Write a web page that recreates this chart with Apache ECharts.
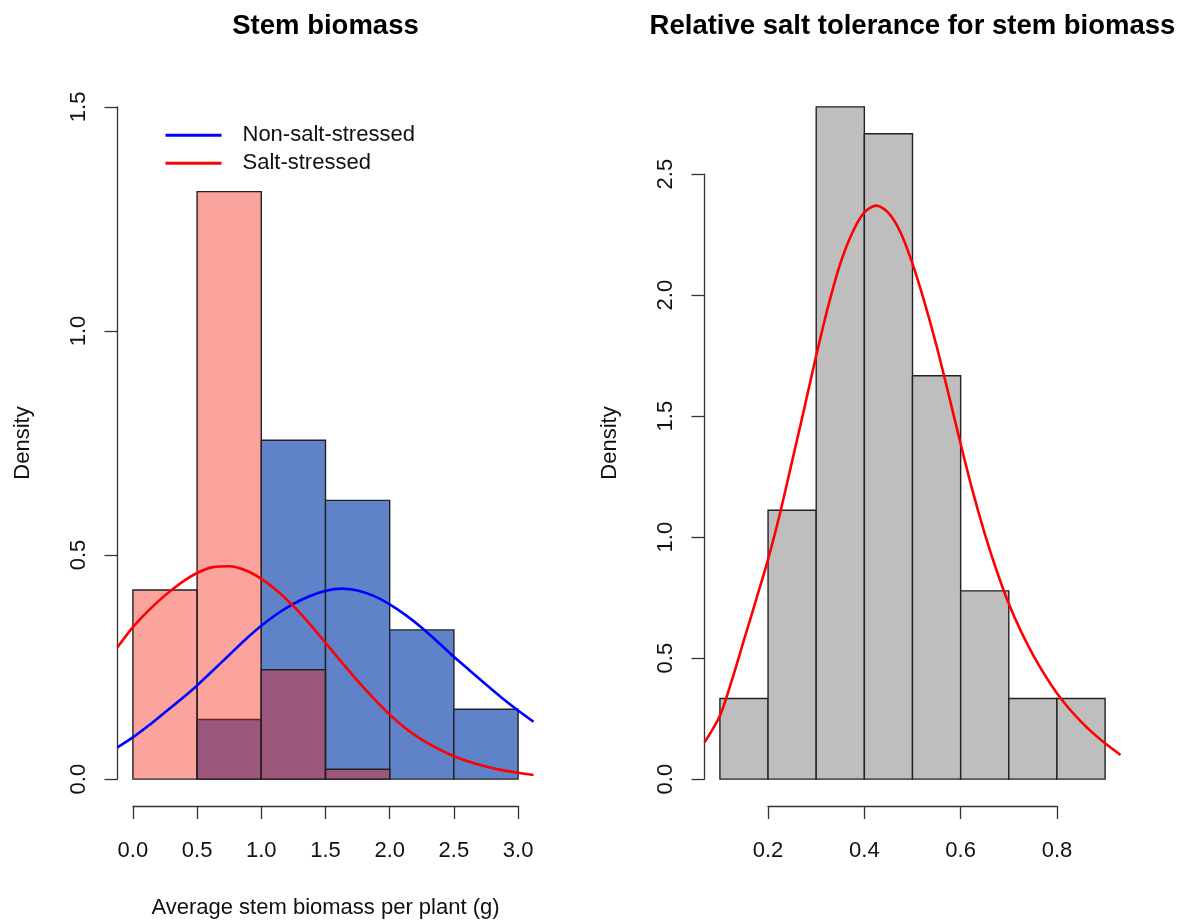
<!DOCTYPE html>
<html><head><meta charset="utf-8">
<script src="https://cdn.jsdelivr.net/npm/echarts@6.0.0/dist/echarts.min.js"></script>
<style>html,body{margin:0;padding:0;background:#fff}#c{width:1183px;height:924px}</style>
</head><body><div id="c"></div>
<script>
// ---------- data ----------
const leftBinEdges = [0, 0.5, 1.0, 1.5, 2.0, 2.5, 3.0];
const nonSaltDensity = [0, 0.133, 0.756, 0.622, 0.333, 0.156];
const saltDensity = [0.422, 1.311, 0.244, 0.022, 0, 0];

const nonSaltCurveX = [-0.12, 0, 0.125, 0.25, 0.375, 0.5, 0.625, 0.75, 0.875, 1.0, 1.125, 1.25, 1.375, 1.5, 1.625, 1.75, 1.875, 2.0, 2.125, 2.25, 2.375, 2.5, 2.625, 2.75, 2.875, 3.0, 3.12];
const nonSaltCurveY = [0.071, 0.093, 0.12, 0.149, 0.178, 0.209, 0.243, 0.277, 0.311, 0.342, 0.369, 0.391, 0.408, 0.42, 0.425, 0.421, 0.409, 0.39, 0.366, 0.338, 0.306, 0.273, 0.242, 0.211, 0.181, 0.153, 0.128];

const saltCurveX = [-0.12, 0, 0.125, 0.25, 0.375, 0.5, 0.625, 0.75, 0.875, 1.0, 1.125, 1.25, 1.375, 1.5, 1.625, 1.75, 1.875, 2.0, 2.125, 2.25, 2.375, 2.5, 2.625, 2.75, 2.875, 3.0, 3.12];
const saltCurveY = [0.294, 0.339, 0.377, 0.41, 0.438, 0.46, 0.473, 0.475, 0.466, 0.447, 0.42, 0.386, 0.347, 0.304, 0.261, 0.219, 0.18, 0.144, 0.113, 0.088, 0.068, 0.051, 0.038, 0.028, 0.02, 0.014, 0.009];

const rightBinEdges = [0.1, 0.2, 0.3, 0.4, 0.5, 0.6, 0.7, 0.8, 0.9];
const rstDensity = [0.333, 1.111, 2.778, 2.667, 1.667, 0.778, 0.333, 0.333];

const rstCurveX = [0.068, 0.1, 0.125, 0.15, 0.175, 0.2, 0.225, 0.25, 0.275, 0.3, 0.325, 0.35, 0.375, 0.4, 0.425, 0.45, 0.475, 0.5, 0.525, 0.55, 0.575, 0.6, 0.625, 0.65, 0.675, 0.7, 0.725, 0.75, 0.775, 0.8, 0.825, 0.85, 0.875, 0.9, 0.932];
const rstCurveY = [0.152, 0.262, 0.41, 0.575, 0.74, 0.908, 1.1, 1.314, 1.53, 1.75, 1.955, 2.13, 2.258, 2.342, 2.37, 2.34, 2.26, 2.13, 1.97, 1.79, 1.59, 1.385, 1.19, 1.015, 0.86, 0.725, 0.612, 0.515, 0.43, 0.355, 0.292, 0.238, 0.19, 0.148, 0.1];

const leftXTickLabels = ['0.0', '0.5', '1.0', '1.5', '2.0', '2.5', '3.0'];
const leftYTickLabels = ['0.0', '0.5', '1.0', '1.5'];
const rightXTickLabels = ['0.2', '0.4', '0.6', '0.8'];
const rightYTickLabels = ['0.0', '0.5', '1.0', '1.5', '2.0', '2.5'];

const leftTitle = 'Stem biomass';
const rightTitle = 'Relative salt tolerance for stem biomass';
const leftXName = 'Average stem biomass per plant (g)';
const yName = 'Density';
const legendNames = ['Non-salt-stressed', 'Salt-stressed'];

// ---------- layout ----------
const FONT = "'Liberation Sans', Arial, sans-serif";
const plotTop = 80, plotH = 726, plotW = 416;
const L = { left: 117.5, xr: [-0.12, 3.12], yr: [-0.06, 1.56] };
const R = { left: 704.5, xr: [0.068, 0.932], yr: [-0.111, 2.889] };

function axisGridFor(p, xt, yt) {
  const sx = plotW / (p.xr[1] - p.xr[0]);
  const sy = plotH / (p.yr[1] - p.yr[0]);
  const left = p.left + (xt[0] - p.xr[0]) * sx;
  const width = (xt[xt.length - 1] - xt[0]) * sx;
  const bottomY = plotTop + plotH - (yt[0] - p.yr[0]) * sy;
  const topY = plotTop + plotH - (yt[yt.length - 1] - p.yr[0]) * sy;
  return {
    grid: { left: left, top: topY, width: width, height: bottomY - topY },
    xOffset: plotTop + plotH - bottomY,
    yOffset: left - p.left
  };
}
const LXv = leftXTickLabels.map(Number), LYv = leftYTickLabels.map(Number);
const RXv = rightXTickLabels.map(Number), RYv = rightYTickLabels.map(Number);
const LA = axisGridFor(L, LXv, LYv);
const RA = axisGridFor(R, RXv, RYv);

function bars(edges, dens) {
  const out = [];
  dens.forEach((d, i) => { if (d > 0) out.push([edges[i], edges[i + 1], d]); });
  return out;
}
function pairs(xs, ys) { return xs.map((x, i) => [x, ys[i]]); }
function labelFor(vals, labs) {
  return function (v) {
    let bi = 0;
    vals.forEach((t, i) => { if (Math.abs(t - v) < Math.abs(vals[bi] - v)) bi = i; });
    return labs[bi];
  };
}
function histSeries(xi, data, fill) {
  return {
    type: 'custom', xAxisIndex: xi, yAxisIndex: xi,
    encode: { x: [0, 1], y: 2 },
    data: data,
    renderItem: function (params, api) {
      const p0 = api.coord([api.value(0), api.value(2)]);
      const p1 = api.coord([api.value(1), 0]);
      return {
        type: 'rect',
        shape: { x: p0[0], y: p0[1], width: p1[0] - p0[0], height: p1[1] - p0[1] },
        style: { fill: fill, stroke: '#222', lineWidth: 1.4 }
      };
    }
  };
}
function curveSeries(xi, name, data, color) {
  return {
    type: 'line', name: name, xAxisIndex: xi, yAxisIndex: xi,
    data: data, smooth: 0.3, symbol: 'none', showSymbol: false,
    color: color, lineStyle: { color: color, width: 2.6 }
  };
}
function visAxis(kind, gi, vals, labs, offset, margin, rotate) {
  return {
    type: 'value', gridIndex: gi, min: vals[0], max: vals[vals.length - 1],
    position: kind === 'x' ? 'bottom' : 'left', offset: offset,
    axisLine: { show: true, onZero: false, lineStyle: { color: '#333', width: 1.3 } },
    axisTick: { show: true, length: 13, customValues: vals, lineStyle: { color: '#333', width: 1.3 } },
    axisLabel: { customValues: vals, formatter: labelFor(vals, labs), fontSize: 22, fontFamily: FONT, color: '#111', margin: margin, rotate: rotate || 0 },
    splitLine: { show: false }
  };
}

const option = {
  animation: false,
  backgroundColor: '#ffffff',
  grid: [
    { left: L.left, top: plotTop, width: plotW, height: plotH },
    LA.grid,
    { left: R.left, top: plotTop, width: plotW, height: plotH },
    RA.grid
  ],
  xAxis: [
    { type: 'value', gridIndex: 0, min: L.xr[0], max: L.xr[1], show: false },
    visAxis('x', 1, LXv, leftXTickLabels, LA.xOffset, 34),
    { type: 'value', gridIndex: 2, min: R.xr[0], max: R.xr[1], show: false },
    visAxis('x', 3, RXv, rightXTickLabels, RA.xOffset, 34)
  ],
  yAxis: [
    { type: 'value', gridIndex: 0, min: L.yr[0], max: L.yr[1], show: false },
    visAxis('y', 1, LYv, leftYTickLabels, LA.yOffset, 28, 90),
    { type: 'value', gridIndex: 2, min: R.yr[0], max: R.yr[1], show: false },
    visAxis('y', 3, RYv, rightYTickLabels, RA.yOffset, 28, 90)
  ],
  legend: {
    orient: 'vertical', left: 160.5, top: 116.3,
    itemWidth: 56, itemHeight: 3, itemGap: 0, icon: 'rect',
    selectedMode: false,
    data: legendNames,
    textStyle: { fontSize: 22, fontFamily: FONT, color: '#111', lineHeight: 28, padding: [0, 0, 0, 16] }
  },
  graphic: [
    { type: 'text', x: L.left + plotW / 2, y: 26, style: { text: leftTitle, font: "bold 27.5px " + FONT, fill: '#000', textAlign: 'center', textVerticalAlign: 'middle' } },
    { type: 'text', x: R.left + plotW / 2, y: 26, style: { text: rightTitle, font: "bold 27.5px " + FONT, fill: '#000', textAlign: 'center', textVerticalAlign: 'middle' } },
    { type: 'text', x: LA.grid.left + LA.grid.width / 2, y: 908, style: { text: leftXName, font: "22px " + FONT, fill: '#111', textAlign: 'center', textVerticalAlign: 'middle' } },
    { type: 'text', x: 23, y: plotTop + plotH / 2, rotation: Math.PI / 2, style: { text: yName, font: "22px " + FONT, fill: '#111', textAlign: 'center', textVerticalAlign: 'middle' } },
    { type: 'text', x: 610, y: plotTop + plotH / 2, rotation: Math.PI / 2, style: { text: yName, font: "22px " + FONT, fill: '#111', textAlign: 'center', textVerticalAlign: 'middle' } }
  ],
  series: [
    histSeries(0, bars(leftBinEdges, nonSaltDensity), '#5F82C8'),
    curveSeries(0, legendNames[0], pairs(nonSaltCurveX, nonSaltCurveY), '#0000FF'),
    histSeries(0, bars(leftBinEdges, saltDensity), 'rgba(245,25,10,0.4)'),
    curveSeries(0, legendNames[1], pairs(saltCurveX, saltCurveY), '#FF0000'),
    histSeries(2, bars(rightBinEdges, rstDensity), '#BEBEBE'),
    curveSeries(2, 'rst', pairs(rstCurveX, rstCurveY), '#FF0000')
  ]
};
const chart = echarts.init(document.getElementById('c'), null, { renderer: 'canvas' });
chart.setOption(option);
</script>
</body></html>
